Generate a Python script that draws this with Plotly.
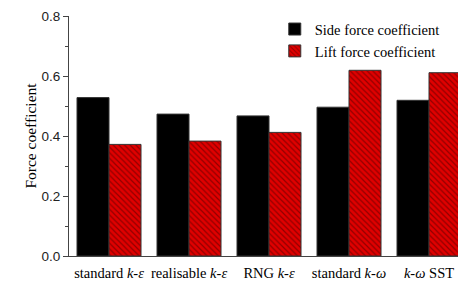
import plotly.graph_objects as go

categories = ["standard <i>k</i>-<i>ε</i>", "realisable <i>k</i>-<i>ε</i>", "RNG <i>k</i>-<i>ε</i>",
              "standard <i>k</i>-<i>ω</i>", "<i>k</i>-<i>ω</i> SST"]
side_force = [0.528, 0.473, 0.467, 0.496, 0.519]
lift_force = [0.372, 0.383, 0.412, 0.619, 0.611]
series_names = ["Side force coefficient", "Lift force coefficient"]
y_ticks = [0.0, 0.2, 0.4, 0.6, 0.8]

serif = "Liberation Serif, Times New Roman, serif"
sans = "Liberation Sans, Arial, sans-serif"

fig = go.Figure()
fig.add_trace(go.Bar(
    x=categories, y=side_force, name=series_names[0],
    marker=dict(color="black", line=dict(color="#333333", width=1)),
))
fig.add_trace(go.Bar(
    x=categories, y=lift_force, name=series_names[1],
    marker=dict(color="#e00000", line=dict(color="#333333", width=1),
                pattern=dict(shape="\\", fgcolor="#400000", bgcolor="#e00000",
                             size=4, solidity=0.3)),
))

fig.update_layout(
    width=458, height=284,
    margin=dict(l=69, r=0, t=16, b=28, autoexpand=False),
    paper_bgcolor="white", plot_bgcolor="white",
    barmode="group", bargap=0.2, bargroupgap=0,
    showlegend=True,
    legend=dict(x=0.529, y=1.012, xanchor="left", yanchor="top",
                font=dict(family=serif, size=14.5, color="black"),
                bgcolor="rgba(0,0,0,0)", tracegroupgap=0, itemwidth=30),
    xaxis=dict(range=[-0.5, 4.3625], showline=True, linecolor="#444444", linewidth=1,
               ticks="", showgrid=False, tickfont=dict(family=serif, size=14.5, color="black"),
               ticklabelstandoff=4, tickangle=0),
    yaxis=dict(range=[0, 0.8], tickvals=y_ticks, tickformat=".1f",
               showline=True, linecolor="#444444", linewidth=1,
               ticks="outside", ticklen=5, tickcolor="#444444", showgrid=False, zeroline=False,
               minor=dict(dtick=0.1, ticks="outside", ticklen=3, tickcolor="#444444"),
               tickfont=dict(family=sans, size=13.5, color="#222222"),
               title=dict(text="Force coefficient", font=dict(family=serif, size=15.5, color="black"),
                          standoff=1)),
)

fig.write_html("out.html", config={"displayModeBar": False},
               post_script="document.body.style.margin='0';")
